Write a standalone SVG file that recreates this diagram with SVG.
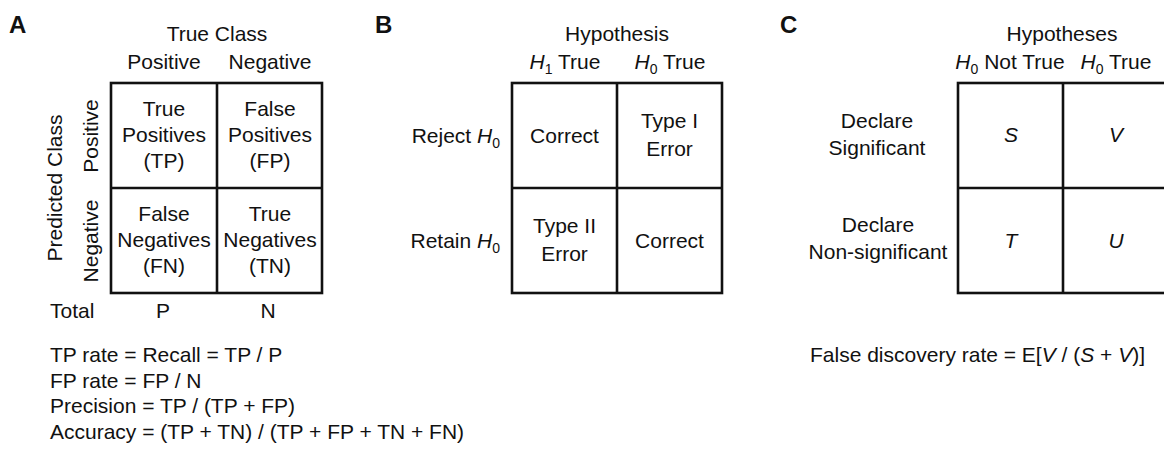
<svg xmlns="http://www.w3.org/2000/svg" width="1164" height="464" viewBox="0 0 1164 464">
<style>
text{font-family:"Liberation Sans",Arial,Helvetica,sans-serif;font-size:21px;fill:#111}
.lbl{font-weight:bold;font-size:24px}
.m{text-anchor:middle}
.e{text-anchor:end}
.i{font-style:italic}
.sub{font-size:14px}
.grid{fill:none;stroke:#111;stroke-width:2.6}
</style>
<rect width="1164" height="464" fill="#fff"/>

<g id="panelA">
<text class="lbl" x="9" y="33">A</text>
<text class="m" x="217" y="41">True Class</text>
<text class="m" x="164" y="69">Positive</text>
<text class="m" x="270" y="69">Negative</text>
<text class="m" transform="translate(62,188) rotate(-90)">Predicted Class</text>
<text class="m" transform="translate(98,136) rotate(-90)">Positive</text>
<text class="m" transform="translate(98,241) rotate(-90)">Negative</text>
<g id="gridA">
<rect class="grid" x="111" y="83" width="211" height="210"/>
<line class="grid" x1="217" y1="83" x2="217" y2="293"/>
<line class="grid" x1="111" y1="188" x2="322" y2="188"/>
</g>
<g id="cellTP"><text class="m" x="164" y="116">True</text><text class="m" x="164" y="142">Positives</text><text class="m" x="164" y="168">(TP)</text></g>
<g id="cellFP"><text class="m" x="270" y="116">False</text><text class="m" x="270" y="142">Positives</text><text class="m" x="270" y="168">(FP)</text></g>
<g id="cellFN"><text class="m" x="164" y="221">False</text><text class="m" x="164" y="247">Negatives</text><text class="m" x="164" y="273">(FN)</text></g>
<g id="cellTN"><text class="m" x="270" y="221">True</text><text class="m" x="270" y="247">Negatives</text><text class="m" x="270" y="273">(TN)</text></g>
<text x="50" y="318">Total</text>
<text class="m" x="163" y="318">P</text>
<text class="m" x="268" y="318">N</text>
<g id="formulasA">
<text x="50" y="362">TP rate = Recall = TP / P</text>
<text x="50" y="388">FP rate = FP / N</text>
<text x="50" y="413">Precision = TP / (TP + FP)</text>
<text x="50" y="439">Accuracy = (TP + TN) / (TP + FP + TN + FN)</text>
</g>
</g>

<g id="panelB">
<text class="lbl" x="375" y="33">B</text>
<text class="m" x="617" y="41">Hypothesis</text>
<text class="m" x="565" y="69"><tspan class="i">H</tspan><tspan class="sub" dy="5">1</tspan><tspan dy="-5"> True</tspan></text>
<text class="m" x="670" y="69"><tspan class="i">H</tspan><tspan class="sub" dy="5">0</tspan><tspan dy="-5"> True</tspan></text>
<text class="e" x="500" y="143">Reject <tspan class="i">H</tspan><tspan class="sub" dy="5">0</tspan></text>
<text class="e" x="500" y="248">Retain <tspan class="i">H</tspan><tspan class="sub" dy="5">0</tspan></text>
<g id="gridB">
<rect class="grid" x="512" y="83" width="210" height="210"/>
<line class="grid" x1="617" y1="83" x2="617" y2="293"/>
<line class="grid" x1="512" y1="188" x2="722" y2="188"/>
</g>
<g id="cellB11"><text class="m" x="564.5" y="143">Correct</text></g>
<g id="cellB12"><text class="m" x="669.5" y="128">Type I</text><text class="m" x="669.5" y="156">Error</text></g>
<g id="cellB21"><text class="m" x="564.5" y="233">Type II</text><text class="m" x="564.5" y="261">Error</text></g>
<g id="cellB22"><text class="m" x="669.5" y="248">Correct</text></g>
</g>

<g id="panelC">
<text class="lbl" x="780" y="33">C</text>
<text class="m" x="1062" y="41">Hypotheses</text>
<text class="m" x="1010" y="69"><tspan class="i">H</tspan><tspan class="sub" dy="5">0</tspan><tspan dy="-5"> Not True</tspan></text>
<text class="m" x="1116" y="69"><tspan class="i">H</tspan><tspan class="sub" dy="5">0</tspan><tspan dy="-5"> True</tspan></text>
<text class="m" x="877" y="128">Declare</text>
<text class="m" x="877" y="155">Significant</text>
<text class="m" x="878" y="232">Declare</text>
<text class="m" x="878" y="259">Non-significant</text>
<g id="gridC">
<rect class="grid" x="958" y="83" width="212" height="210"/>
<line class="grid" x1="1063" y1="83" x2="1063" y2="293"/>
<line class="grid" x1="958" y1="188" x2="1170" y2="188"/>
</g>
<g id="cellS"><text class="m i" x="1011" y="142">S</text></g>
<g id="cellV"><text class="m i" x="1116" y="142">V</text></g>
<g id="cellT"><text class="m i" x="1011" y="248">T</text></g>
<g id="cellU"><text class="m i" x="1116" y="248">U</text></g>
<text x="810" y="362">False discovery rate = E[<tspan class="i">V</tspan> / (<tspan class="i">S</tspan> + <tspan class="i">V</tspan>)]</text>
</g>
</svg>
